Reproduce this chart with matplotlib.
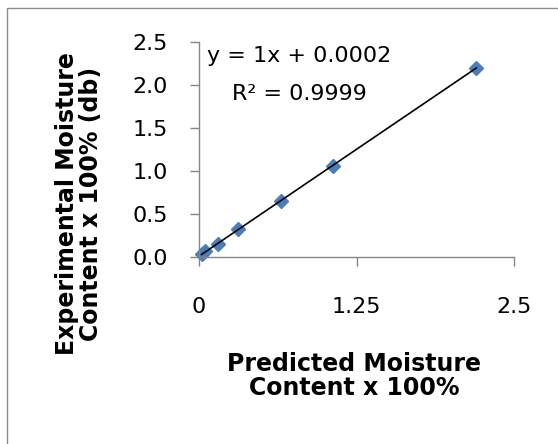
import numpy as np
import matplotlib
matplotlib.use("Agg")
import matplotlib.pyplot as plt
from matplotlib.patches import Rectangle

# data
predicted = [0.02, 0.05, 0.15, 0.31, 0.65, 1.06, 2.20]
experimental = [0.03, 0.07, 0.15, 0.32, 0.65, 1.06, 2.20]
x_ticks = [0, 1.25, 2.5]
x_tick_labels = ["0", "1.25", "2.5"]
y_ticks = [0.0, 0.5, 1.0, 1.5, 2.0, 2.5]
eq_line1 = "y = 1x + 0.0002"
eq_line2 = "R\u00b2 = 0.9999"

W, H = 558, 444
plt.rcParams['font.family'] = ['DejaVu Sans']
fig = plt.figure(figsize=(W / 100, H / 100), dpi=100)

# outer chart-area frame (runs off right and bottom edges)
frame = Rectangle((7 / W, -0.05), 1.2, 1 - 8 / H + 0.05, transform=fig.transFigure,
                  fill=False, edgecolor="#8c8c8c", linewidth=1.0)
fig.patches.append(frame)

ax = fig.add_axes([199 / W, 1 - 257 / H, (514 - 199) / W, (257 - 42) / H])

# trendline fitted from the points
coef = np.polyfit(predicted, experimental, 1)
xs = np.array([min(predicted), max(predicted)])
ax.plot(xs, np.polyval(coef, xs), color="black", linewidth=1.2, zorder=3)
ax.plot(predicted, experimental, linestyle="none", marker="D", markersize=7.5,
        color="#4a7ebb", markeredgecolor="#4a7ebb", zorder=2, clip_on=False)

ax.set_xlim(0, 2.5)
ax.set_ylim(0, 2.5)
ax.set_xticks(x_ticks)
ax.set_xticklabels(x_tick_labels)
ax.set_yticks(y_ticks)
ax.set_yticklabels([f"{v:.1f}" for v in y_ticks])

for s in ["top", "right"]:
    ax.spines[s].set_visible(False)
for s in ["left", "bottom"]:
    ax.spines[s].set_color("#868686")
    ax.spines[s].set_linewidth(1.0)

ax.tick_params(axis="both", direction="out", length=6.5, width=1.0, color="#868686",
               labelsize=16, labelcolor="black")
ax.tick_params(axis="y", pad=16)
ax.tick_params(axis="x", pad=22)

# equation labels
fig.text(299 / W, 1 - 56 / H, eq_line1, ha="center", va="center", fontsize=16)
fig.text(299 / W, 1 - 94 / H, eq_line2, ha="center", va="center", fontsize=16)

# axis titles
fig.text(354 / W, 1 - 376 / H, "Predicted Moisture\nContent x 100%", ha="center", va="center",
         fontsize=17, fontweight="bold", linespacing=1.05, multialignment="center")
fig.text(79 / W, 1 - 204 / H, "Experimental Moisture\nContent x 100% (db)", ha="center", va="center",
         rotation=90, fontsize=17, fontweight="bold", linespacing=1.05, multialignment="center")

fig.savefig("out.png", dpi=100)
